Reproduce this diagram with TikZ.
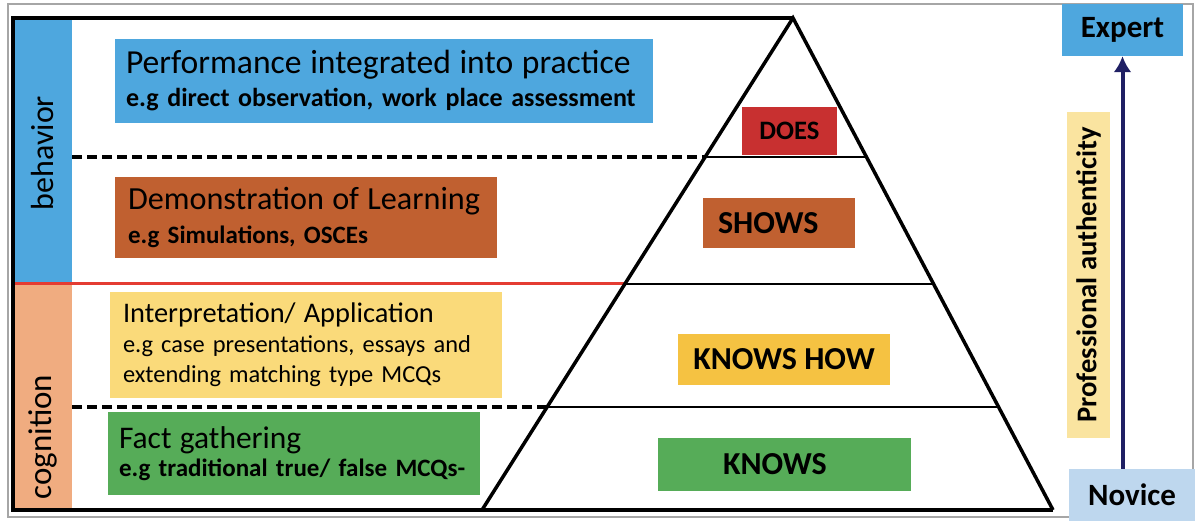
\documentclass[tikz,border=0pt]{standalone}
\usepackage{fontspec}
\setmainfont{Carlito}
\usetikzlibrary{arrows.meta}
\definecolor{bandblue}{RGB}{78,167,222}
\definecolor{bandpeach}{RGB}{240,172,128}
\definecolor{shbrown}{RGB}{192,96,48}
\definecolor{ipyellow}{RGB}{250,218,122}
\definecolor{khyellow}{RGB}{245,194,66}
\definecolor{kngreen}{RGB}{86,172,88}
\definecolor{dored}{RGB}{200,48,48}
\definecolor{novblue}{RGB}{190,215,238}
\definecolor{proyellow}{RGB}{250,228,160}
\definecolor{navy}{RGB}{32,32,100}
\definecolor{cutred}{RGB}{228,60,50}
\tikzstyle{box} = [rectangle, inner sep=0pt, text=black]
\tikzstyle{mill} = [box, text width=#1, inner xsep=13pt, align=left]
\tikzstyle{tier} = [box, align=center, font=\fontsize{32}{38}\selectfont\bfseries]
\tikzstyle{side} = [box, font=\fontsize{31}{36}\selectfont\bfseries, minimum height=52pt]
\tikzstyle{arrow} = [line width=4pt, navy, -{Latex[length=16pt,width=18pt]}]
\tikzstyle{cut} = [line width=3.5pt, dash pattern=on 10pt off 5pt]

\begin{document}
\begin{tikzpicture}[x=1pt, y=-1pt]
\useasboundingbox (0,0) rectangle (1203,521);
% frame and bands
\draw[gray!70, line width=1.2pt] (8,4) rectangle (1193,517);
\fill[bandblue] (13,18) rectangle (72,284);
\fill[bandpeach] (13,284) rectangle (72,510);
\node[rotate=90, font=\fontsize{32}{38}\selectfont] (behav) at (43,153) {behavior};
\node[rotate=90, font=\fontsize{33}{38}\selectfont] (cogn) at (43,437) {cognition};
% pyramid and cuts
\draw[cut] (72,157) -- (705,157);
\draw[line width=2.5pt] (705,157) -- (867,157);
\draw[cutred, line width=3pt] (13,284) -- (625,284);
\draw[line width=2.5pt] (625,284) -- (934,284);
\draw[cut] (72,407) -- (547,407);
\draw[line width=2.5pt] (547,407) -- (999,407);
\draw[line width=4pt, line join=miter] (793,18) -- (13,18) -- (13,510) -- (1053,510);
\draw[line width=3.5pt, line join=miter] (482,510) -- (793,18) -- (1053,510);
% left boxes
\node[mill=516pt, inner xsep=11pt, fill=bandblue, minimum height=84pt, font=\fontsize{26}{33}\selectfont] (perf) at (384,81)
    {{\fontsize{33.6}{40}\selectfont Performance integrated into practice}\\
     {\bfseries e.g direct observation, work place assessment}};
\node[mill=356pt, fill=shbrown, minimum height=81pt, font=\fontsize{25}{34}\selectfont] (demo) at (306,217.5)
    {{\fontsize{32.2}{40}\selectfont Demonstration of Learning}\\
     {\bfseries e.g Simulations, OSCEs}};
\node[mill=366pt, fill=ipyellow, minimum height=106pt, font=\fontsize{24.4}{30}\selectfont] (interp) at (306,345)
    {{\fontsize{28.4}{34}\selectfont Interpretation/ Application}\\
     e.g case presentations, essays and\\
     extending matching type MCQs};
\node[mill=350pt, inner xsep=11pt, fill=kngreen, minimum height=83pt, font=\fontsize{25}{28}\selectfont] (fact) at (294,453.5)
    {{\fontsize{31.5}{38}\selectfont Fact gathering}\\
     {\bfseries e.g traditional true/ false MCQs-}};
% pyramid levels
\node[tier, fill=dored, minimum width=95pt, minimum height=48pt, font=\fontsize{26.6}{32}\selectfont\bfseries] (does) at (789.5,131) {DOES};
\node[tier, fill=shbrown, text width=122pt, inner xsep=15pt, align=left, minimum height=50pt] (shows) at (779,223) {SHOWS};
\node[tier, fill=khyellow, minimum width=212pt, minimum height=51pt] (knowshow) at (784,359.5) {KNOWS HOW};
\node[tier, fill=kngreen, text width=123pt, inner xsep=65pt, align=left, minimum height=53pt] (knows) at (784.5,464.5) {KNOWS};
% scale on the right
\node[box, fill=proyellow, minimum width=43pt, minimum height=326pt] (probox) at (1088.5,275) {};
\node[rotate=90, font=\fontsize{28.6}{34}\selectfont\bfseries] (prof) at (probox) {Professional authenticity};
\node[side, fill=bandblue, minimum width=121pt] (expert) at (1122.5,30) {Expert};
\node[side, fill=novblue, minimum width=126pt] (novice) at (1132,495) {Novice};
\draw[arrow] (novice.north -| expert.south) -- (expert.south);
\end{tikzpicture}
\end{document}
